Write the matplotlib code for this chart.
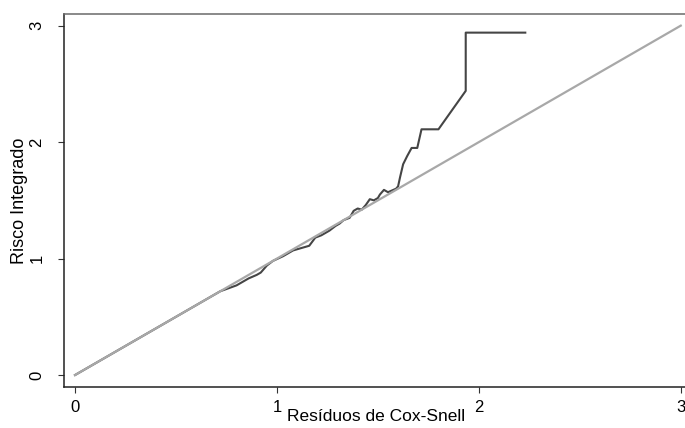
import matplotlib
matplotlib.use("Agg")
import matplotlib.pyplot as plt

# Cumulative hazard of Cox-Snell residuals (step-like curve)
resid_x = [0.00, 0.20, 0.40, 0.60, 0.72, 0.80, 0.86, 0.90, 0.92, 0.95, 0.98, 1.03,
           1.08, 1.12, 1.16, 1.19, 1.22, 1.26, 1.29, 1.31, 1.33, 1.36, 1.38, 1.40,
           1.42, 1.44, 1.46, 1.48, 1.50, 1.51, 1.53, 1.55, 1.59, 1.60, 1.61, 1.625,
           1.645, 1.667, 1.695, 1.716, 1.80, 1.935, 1.935, 2.23]
hazard_y = [0.00, 0.20, 0.40, 0.60, 0.72, 0.77, 0.83, 0.86, 0.88, 0.94, 0.98, 1.02,
            1.07, 1.09, 1.11, 1.18, 1.20, 1.24, 1.28, 1.30, 1.33, 1.35, 1.41, 1.43,
            1.42, 1.46, 1.51, 1.50, 1.52, 1.55, 1.59, 1.57, 1.60, 1.62, 1.70, 1.81,
            1.88, 1.95, 1.95, 2.11, 2.11, 2.44, 2.94, 2.94]

# Reference line y = x
ref_x = [0, 3]
ref_y = [0, 3]

x_ticks = [0, 1, 2, 3]
y_ticks = [0, 1, 2, 3]

fig = plt.figure(figsize=(6.85, 4.28), dpi=100)
W, H = 685, 428
left, right, top, bottom = 64, 705, 14, 386.7
ax = fig.add_axes([left / W, 1 - bottom / H, (right - left) / W, (bottom - top) / H])

ax.plot(resid_x, hazard_y, color="#454545", lw=1.5, zorder=2)
ax.plot(ref_x, ref_y, color="#a8a8a8", lw=1.6, zorder=3)

ax.set_xlim(-0.0545, 3.12)
ax.set_ylim(-0.10, 3.10)
ax.set_xticks(x_ticks)
ax.set_yticks(y_ticks)
ax.set_xticklabels([str(v) for v in x_ticks])
ax.set_yticklabels([str(v) for v in y_ticks], rotation=90, va="center")

font = "Liberation Sans"
ax.tick_params(axis="both", direction="out", length=4.5, width=0.8, color="#333333",
               labelsize=12)
ax.tick_params(axis="x", pad=5)
ax.tick_params(axis="y", pad=9.5)
for lab in ax.get_xticklabels() + ax.get_yticklabels():
    lab.set_family(font)

for s in ["left", "bottom"]:
    ax.spines[s].set_color("#222222")
    ax.spines[s].set_linewidth(1.1)
ax.spines["top"].set_color("#6a6a6a")
ax.spines["top"].set_linewidth(1.1)
ax.spines["right"].set_visible(False)

ax.set_xlabel("Resíduos de Cox-Snell", fontsize=12.5, family=font, va="top")
ax.xaxis.set_label_coords((376 - left) / (right - left), (bottom - 409) / (bottom - top))
ax.set_ylabel("Risco Integrado", fontsize=13, family=font, va="center")
ax.yaxis.set_label_coords((20 - left) / (right - left), 0.5)

fig.savefig("out.png", dpi=100)
